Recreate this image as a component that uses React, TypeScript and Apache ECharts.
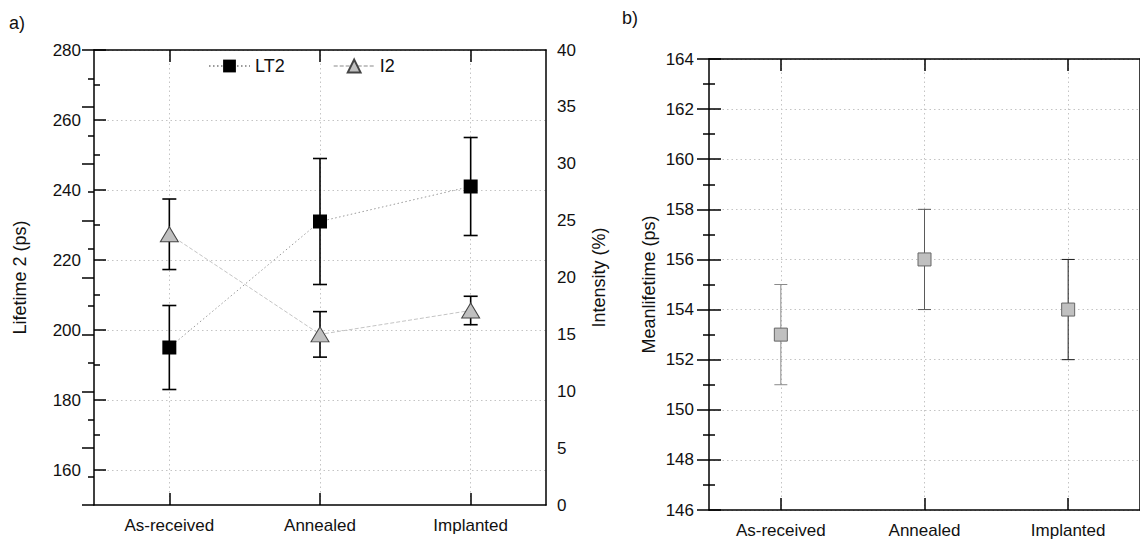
import { useEffect, useRef } from 'react';
import * as echarts from 'echarts';

const categories = ['As-received', 'Annealed', 'Implanted'];
const lt2 = [195, 231, 241];
const lt2Err = [12, 18, 14];
const i2 = [23.8, 15, 17.1];
const i2Err = [3.1, 2, 1.25];
const meanLifetime = [153, 156, 154];
const meanErr = [2, 2, 2];
const lifetimeTicks = [160, 180, 200, 220, 240, 260, 280];
const lifetimeMinorTicks = [170, 190, 210, 230, 250, 270];

const FONT = 'Liberation Sans, Arial, sans-serif';
const TXT = '#111';
const meanErrColors = ['#8a8a8a', '#5a5a5a', '#1a1a1a'];

// category i sits at x = 2i+1 on a 0..6 value axis (half-slot padding at both ends)
const pos = (i: number) => 2 * i + 1;
const catPositions = categories.map((_, i) => pos(i));

const axisLine = { show: true, onZero: false, lineStyle: { color: '#000', width: 1.5 } };
const gridLine = { show: true, lineStyle: { color: '#c4c4c4', type: [1.5, 3], width: 1 } };
const tickStyle = { color: '#000', width: 1.5 };

const leftRect = { left: 94, top: 50, right: 594, bottom: 39 };
const rightRect = { left: 709, top: 59, right: -5, bottom: 34 };

const noTick = { show: false };
const hidden = { show: false };

function tickOnlyX(gridIndex: number, position: string) {
  return {
    type: 'value', gridIndex, position, min: 0, max: 6, interval: 1,
    axisLine: hidden, axisLabel: hidden, splitLine: hidden,
    axisTick: { show: true, inside: true, length: 12, customValues: catPositions, lineStyle: tickStyle },
  };
}
function hiddenX(gridIndex: number) {
  return { type: 'value', gridIndex, min: 0, max: 6, show: false };
}
function tickOnlyY(gridIndex: number, position: string, min: number, max: number, interval: number, custom?: number[], len = 12, minor = false) {
  return {
    type: 'value', gridIndex, position, min, max, interval,
    axisLine: hidden, axisLabel: hidden, splitLine: hidden,
    axisTick: { show: true, inside: true, length: len, lineStyle: tickStyle, ...(custom ? { customValues: custom } : {}) },
    minorTick: minor ? { show: true, splitNumber: 2, length: 6, lineStyle: tickStyle } : { show: false },
  };
}

function mainX(gridIndex: number) {
  return [
    {
      type: 'value', gridIndex, position: 'bottom', min: 0, max: 6, interval: 1,
      axisLine,
      axisTick: { show: false, customValues: catPositions },
      axisLabel: {
        customValues: catPositions, fontSize: 17, color: TXT, fontFamily: FONT, margin: 12,
        formatter: (v: number) => categories[Math.round((v - 1) / 2)] ?? '',
      },
      splitLine: gridLine,
    },
    {
      type: 'value', gridIndex, position: 'top', min: 0, max: 6, interval: 1,
      axisLine, axisTick: noTick, axisLabel: hidden, splitLine: hidden,
    },
  ];
}

function errorBars(capHalf: number, colors: string[], width: number) {
  return (params: any, api: any) => {
    const x = api.value(0);
    const lo = api.coord([x, api.value(1)]);
    const hi = api.coord([x, api.value(2)]);
    const style = { stroke: colors[params.dataIndex % colors.length], lineWidth: width, fill: 'none' };
    return {
      type: 'group',
      children: [
        { type: 'line', shape: { x1: lo[0], y1: lo[1], x2: hi[0], y2: hi[1] }, style },
        { type: 'line', shape: { x1: lo[0] - capHalf, y1: lo[1], x2: lo[0] + capHalf, y2: lo[1] }, style },
        { type: 'line', shape: { x1: hi[0] - capHalf, y1: hi[1], x2: hi[0] + capHalf, y2: hi[1] }, style },
      ],
    };
  };
}

export default function App() {
  const ref = useRef<HTMLDivElement>(null);
  useEffect(() => {
    if (!ref.current) return;
    const chart = echarts.init(ref.current, null, { renderer: 'svg' });
    const option: any = {
      animation: false,
      textStyle: { fontFamily: FONT, color: TXT },
      grid: [
        leftRect, rightRect,
        leftRect, leftRect, leftRect,
        rightRect, rightRect,
      ],
      graphic: [
        { type: 'text', left: 9, top: 14, style: { text: 'a)', fontSize: 18, fill: TXT, fontFamily: FONT } },
        { type: 'text', left: 622, top: 9, style: { text: 'b)', fontSize: 18, fill: TXT, fontFamily: FONT } },
      ],
      legend: {
        data: ['LT2', 'I2'], left: 208, top: 57, itemWidth: 41, itemHeight: 16, itemGap: 48, padding: 0,
        textStyle: { fontSize: 18, color: TXT, fontFamily: FONT },
      },
      xAxis: [
        ...mainX(0), // 0,1
        ...mainX(1), // 2,3
        tickOnlyX(2, 'bottom'), // 4
        tickOnlyX(3, 'top'), // 5
        hiddenX(4), // 6
        tickOnlyX(5, 'bottom'), // 7
        tickOnlyX(6, 'top'), // 8
      ],
      yAxis: [
        {
          type: 'value', gridIndex: 0, position: 'left', min: 150, max: 280, interval: 10,
          axisLine,
          axisTick: { show: false, customValues: lifetimeTicks },
          axisLabel: { customValues: lifetimeTicks, fontSize: 17, color: TXT, fontFamily: FONT, margin: 13 },
          splitLine: gridLine,
          name: 'Lifetime 2 (ps)', nameLocation: 'middle', nameGap: 65,
          nameTextStyle: { fontSize: 18, color: TXT, fontFamily: FONT },
        },
        {
          type: 'value', gridIndex: 0, position: 'right', min: 0, max: 40, interval: 5,
          axisLine, axisTick: noTick,
          axisLabel: { fontSize: 17, color: TXT, fontFamily: FONT, margin: 11 },
          splitLine: hidden,
          name: 'Intensity (%)', nameLocation: 'middle', nameGap: 44,
          nameTextStyle: { fontSize: 18, color: TXT, fontFamily: FONT },
        },
        {
          type: 'value', gridIndex: 1, position: 'left', min: 146, max: 164, interval: 2,
          axisLine, axisTick: noTick,
          axisLabel: { fontSize: 17, color: TXT, fontFamily: FONT, margin: 15 },
          splitLine: gridLine,
          name: 'Meanlifetime (ps)', nameLocation: 'middle', nameGap: 51,
          nameTextStyle: { fontSize: 18, color: TXT, fontFamily: FONT },
        },
        {
          type: 'value', gridIndex: 1, position: 'right', min: 146, max: 164, interval: 2,
          axisLine, axisTick: noTick, axisLabel: hidden, splitLine: hidden,
        },
        tickOnlyY(2, 'left', 150, 280, 10, lifetimeTicks, 12), // 4
        tickOnlyY(3, 'left', 150, 280, 10, lifetimeMinorTicks, 6), // 5
        tickOnlyY(4, 'right', 0, 40, 5, undefined, 12, true), // 6
        tickOnlyY(5, 'left', 146, 164, 2, undefined, 12, true), // 7
        tickOnlyY(6, 'right', 146, 164, 2, undefined, 12, true), // 8
      ],
      series: [
        {
          type: 'custom', name: 'LT2 err', xAxisIndex: 0, yAxisIndex: 0, z: 1,
          encode: { x: 0, y: [1, 2] },
          renderItem: errorBars(7, ['#000'], 1.6),
          data: categories.map((_, i) => [pos(i), lt2[i] - lt2Err[i], lt2[i] + lt2Err[i]]),
        },
        {
          type: 'custom', name: 'I2 err', xAxisIndex: 0, yAxisIndex: 1, z: 1,
          encode: { x: 0, y: [1, 2] },
          renderItem: errorBars(7, ['#000'], 1.6),
          data: categories.map((_, i) => [pos(i), i2[i] - i2Err[i], i2[i] + i2Err[i]]),
        },
        {
          type: 'line', name: 'LT2', xAxisIndex: 0, yAxisIndex: 0, z: 3,
          symbol: 'rect', symbolSize: 14,
          itemStyle: { color: '#000' },
          lineStyle: { color: '#9a9a9a', type: [1.5, 2.5], width: 1 },
          data: categories.map((_, i) => [pos(i), lt2[i]]),
        },
        {
          type: 'line', name: 'I2', xAxisIndex: 0, yAxisIndex: 1, z: 3,
          symbol: 'triangle', symbolSize: [18, 15],
          itemStyle: { color: '#c0c0c0', borderColor: '#444', borderWidth: 1 },
          lineStyle: { color: '#c4c4c4', type: [4, 2], width: 1 },
          data: categories.map((_, i) => [pos(i), i2[i]]),
        },
        {
          type: 'custom', name: 'Mean err', xAxisIndex: 2, yAxisIndex: 2, z: 1,
          encode: { x: 0, y: [1, 2] },
          renderItem: errorBars(6.5, meanErrColors, 1),
          data: categories.map((_, i) => [pos(i), meanLifetime[i] - meanErr[i], meanLifetime[i] + meanErr[i]]),
        },
        {
          type: 'scatter', name: 'Meanlifetime', xAxisIndex: 2, yAxisIndex: 2, z: 3,
          symbol: 'rect', symbolSize: 13,
          itemStyle: { color: '#c0c0c0', borderColor: '#666', borderWidth: 1, opacity: 1 },
          data: categories.map((_, i) => [pos(i), meanLifetime[i]]),
        },
      ],
    };
    chart.setOption(option);
    return () => chart.dispose();
  }, []);
  return (
    <div
      ref={ref}
      style={{ position: 'absolute', left: 0, top: 0, width: 1140, height: 544, background: '#fff' }}
    />
  );
}
